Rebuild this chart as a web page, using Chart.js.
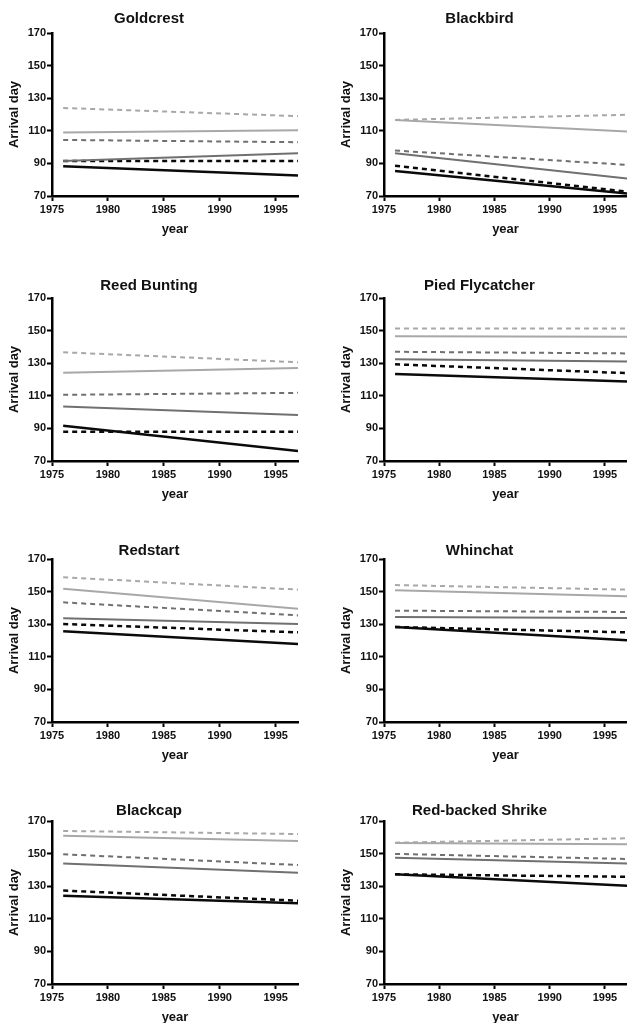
<!DOCTYPE html>
<html>
<head>
<meta charset="utf-8">
<script src="https://cdn.jsdelivr.net/npm/chart.js@4.4.1/dist/chart.umd.min.js"></script>
<style>
  html, body { margin: 0; padding: 0; background: #fff; }
  body { width: 627px; height: 1023px; position: relative; overflow: hidden; }
  canvas { position: absolute; }
</style>
</head>
<body>
<div id="panels"></div>
<script>
'use strict';

// ── Datos ──────────────────────────────────────────────────────────────
const species = ['Goldcrest', 'Blackbird', 'Reed Bunting', 'Pied Flycatcher',
                 'Redstart', 'Whinchat', 'Blackcap', 'Red-backed Shrike'];
const years  = [1976, 1997];
const xTicks = [1975, 1980, 1985, 1990, 1995];
const yTicks = [70, 90, 110, 130, 150, 170];

// arrival day at [first year, last year], same order as species
const lightDashed = [[124, 119], [116.7, 119.8], [136.7, 130.6], [151.3, 151.3],
                     [158.8, 151.2], [154, 151.2], [163.9, 162], [156.7, 159.4]];
const lightSolid  = [[109, 110.4], [116.7, 109.5], [124.1, 127.1], [146.6, 146.2],
                     [151.8, 139.5], [150.8, 147.1], [161, 157.7], [156.5, 155.7]];
const midDashed   = [[104.4, 103], [97.9, 89.1], [110.6, 111.8], [137, 136],
                     [143.4, 135.4], [138.3, 137.5], [149.6, 143], [149.8, 146.7]];
const midSolid    = [[91.5, 96.2], [96.2, 80.8], [103.5, 98.2], [132.4, 131],
                     [133.6, 130.1], [134.4, 133.8], [144, 138.3], [147.5, 144]];
const darkDashed  = [[91.5, 91.5], [88.6, 72.7], [88, 88], [129.3, 123.9],
                     [130.1, 125], [128.3, 125], [127.3, 121.1], [137.3, 135.8]];
const darkSolid   = [[88.2, 82.5], [85.4, 71.6], [91.6, 76.1], [123.3, 118.8],
                     [125.6, 117.9], [128.3, 120.1], [124.2, 119.5], [137.3, 130.3]];

// ── Estilos ────────────────────────────────────────────────────────────
const C = { light: '#a8a8a8', mid: '#707070', dark: '#0a0a0a', text: '#111' };
const FONT = "'Liberation Sans', Arial, sans-serif";
const DASH = [5, 4];

const seriesDefs = [
  { vals: lightDashed, color: C.light, dash: DASH, width: 2 },
  { vals: lightSolid,  color: C.light, dash: [],   width: 2 },
  { vals: midDashed,   color: C.mid,   dash: DASH, width: 2 },
  { vals: midSolid,    color: C.mid,   dash: [],   width: 2 },
  { vals: darkDashed,  color: C.dark,  dash: DASH, width: 2.5 },
  { vals: darkSolid,   color: C.dark,  dash: [],   width: 2.5 },
];

// ── Layout de paneles ──────────────────────────────────────────────────
const PLOT_H   = 163;
const Y_BOX    = 52;   // ancho de la escala Y
const X_BOX    = 44;   // alto de la escala X
const rowTop   = [33, 298, 559, 821];  // y del valor 170 en cada fila
const titleGap = [14, 12, 8, 10];      // distancia del título al tope
const colAxis  = [52, 384];            // x del eje Y en cada columna
const colRight = [298, 627];           // x del año 1997

Chart.defaults.font.family = FONT;
Chart.defaults.color = C.text;

function makePanel(i) {
  const row = Math.floor(i / 2);
  const col = i % 2;
  const titleH = 33;
  const left = colAxis[col] - Y_BOX;
  const top  = rowTop[row] - titleH;
  // padding derecho = Y_BOX para que el título quede centrado sobre el área
  const width  = colRight[col] - left + Y_BOX;
  const height = titleH + PLOT_H + X_BOX;

  const cv = document.createElement('canvas');
  cv.width = width;
  cv.height = height;
  cv.style.left = left + 'px';
  cv.style.top = top + 'px';
  document.getElementById('panels').appendChild(cv);

  const lh = 15 * 1.2;
  const padTop = titleH - titleGap[row] - lh / 2;

  new Chart(cv, {
    type: 'line',
    data: {
      datasets: seriesDefs.map(s => ({
        data: years.map((yr, k) => ({ x: yr, y: s.vals[i][k] })),
        borderColor: s.color,
        borderDash: s.dash,
        borderWidth: s.width,
        pointRadius: 0,
        fill: false,
        tension: 0,
      })),
    },
    options: {
      responsive: false,
      animation: false,
      layout: { padding: { right: Y_BOX } },
      plugins: {
        legend: { display: false },
        tooltip: { enabled: false },
        title: {
          display: true,
          text: species[i],
          color: C.text,
          font: { size: 15, weight: 'bold' },
          padding: { top: padTop, bottom: titleH - padTop - lh },
        },
      },
      scales: {
        x: {
          type: 'linear',
          min: 1975,
          max: 1997,
          afterBuildTicks: s => { s.ticks = xTicks.map(v => ({ value: v })); },
          afterFit: s => { s.height = X_BOX; },
          ticks: { font: { size: 11, weight: 'bold' }, color: C.text, padding: 2,
                   maxRotation: 0, callback: v => String(v) },
          grid: { drawOnChartArea: false, drawTicks: true, tickLength: 5, tickWidth: 2, tickColor: '#000' },
          border: { display: true, color: '#000', width: 2.5 },
          title: { display: true, text: 'year', color: C.text,
                   font: { size: 13, weight: 'bold' }, padding: { top: 0, bottom: 3 } },
        },
        y: {
          min: 70,
          max: 170,
          afterBuildTicks: s => { s.ticks = yTicks.map(v => ({ value: v })); },
          afterFit: s => { s.width = Y_BOX; },
          ticks: { font: { size: 11, weight: 'bold' }, color: C.text, padding: 1 },
          grid: { drawOnChartArea: false, drawTicks: true, tickLength: 5, tickWidth: 2, tickColor: '#000' },
          border: { display: true, color: '#000', width: 2.5 },
          title: { display: true, text: 'Arrival day', color: C.text,
                   font: { size: 13, weight: 'bold' }, padding: { top: 7, bottom: 0 } },
        },
      },
    },
  });
}

species.forEach((_, i) => makePanel(i));
</script>
</body>
</html>
